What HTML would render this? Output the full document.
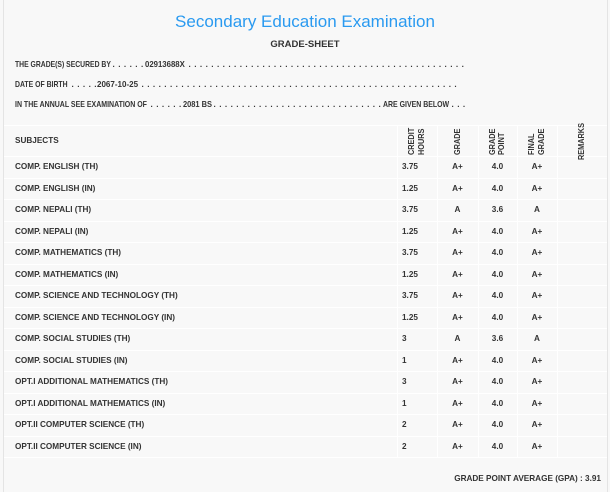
<!DOCTYPE html>
<html>
<head>
<meta charset="utf-8">
<style>
  html,body{margin:0;padding:0;}
  body{width:610px;height:492px;background:#f8f8f8;position:relative;overflow:hidden;
       font-family:"Liberation Sans",Arial,sans-serif;color:#333;}
  .abs{position:absolute;white-space:nowrap;}
  .b{font-weight:bold;font-size:8.2px;}
  .vl{position:absolute;width:1px;background:#ffffff;}
  .hl{position:absolute;height:1px;background:#ffffff;}
  .rot{position:absolute;white-space:nowrap;font-weight:bold;font-size:8.5px;line-height:9.5px;
       transform:rotate(-90deg) scaleX(0.86);transform-origin:0 0;}
  .row{position:absolute;left:0;width:610px;height:21.5px;line-height:21.5px;font-weight:bold;font-size:8.2px;}
  .row span{position:absolute;top:0;}
  .c1{left:15px;}
  .c2{left:402px;}
  .c3{left:437px;width:41px;text-align:center;}
  .c4{left:478px;width:39px;text-align:center;}
  .c5{left:517px;width:40px;text-align:center;}
  .info{position:absolute;white-space:nowrap;font-weight:bold;font-size:8.2px;line-height:10px;transform-origin:0 0;}
  .dots{letter-spacing:0.57px;}
</style>
</head>
<body>
<div class="abs" style="left:3px;top:0;width:1px;height:492px;background:#e4e4e4;"></div>
<div class="abs" style="left:607px;top:0;width:1px;height:492px;background:#e4e4e4;"></div>

<div class="abs" style="left:0;width:610px;text-align:center;top:12.5px;font-size:17px;line-height:17px;color:#2a9af0;">Secondary Education Examination</div>
<div class="abs" style="left:0;width:610px;text-align:center;top:39.5px;font-size:9.5px;line-height:10px;font-weight:bold;">GRADE-SHEET</div>

<!-- line 1 -->
<div class="info" style="left:15px;top:60.4px;transform:scaleX(0.833);">THE GRADE(S) SECURED BY</div>
<div class="info dots" style="left:112.5px;top:60.4px;">. . . . . .</div>
<div class="info" style="left:145px;top:60.4px;transform:scaleX(0.95);">02913688X</div>
<div class="info dots" style="left:188.5px;top:60.4px;">. . . . . . . . . . . . . . . . . . . . . . . . . . . . . . . . . . . . . . . . . . . . . . . . .</div>

<!-- line 2 -->
<div class="info" style="left:15px;top:79.7px;transform:scaleX(0.84);">DATE OF BIRTH</div>
<div class="info dots" style="left:71.5px;top:79.7px;">. . . . .</div>
<div class="info" style="left:97px;top:79.7px;transform:scaleX(0.98);">2067-10-25</div>
<div class="info dots" style="left:141.5px;top:79.7px;">. . . . . . . . . . . . . . . . . . . . . . . . . . . . . . . . . . . . . . . . . . . . . . . . . . . . . . . .</div>

<!-- line 3 -->
<div class="info" style="left:15px;top:99.9px;transform:scaleX(0.854);">IN THE ANNUAL SEE EXAMINATION OF</div>
<div class="info dots" style="left:150.5px;top:99.9px;">. . . . . .</div>
<div class="info" style="left:183px;top:99.9px;transform:scaleX(0.91);">2081 BS</div>
<div class="info dots" style="left:213.5px;top:99.9px;">. . . . . . . . . . . . . . . . . . . . . . . . . . . . . .</div>
<div class="info" style="left:383px;top:99.9px;transform:scaleX(0.85);">ARE GIVEN BELOW</div>
<div class="info dots" style="left:451.5px;top:99.9px;">. . .</div>

<!-- table lines -->
<div class="hl" style="left:4px;width:603px;top:125px;"></div>
<div class="hl" style="left:4px;width:603px;top:156px;"></div>
<div class="hl" style="left:4px;width:603px;top:177.5px;"></div>
<div class="hl" style="left:4px;width:603px;top:199px;"></div>
<div class="hl" style="left:4px;width:603px;top:220.5px;"></div>
<div class="hl" style="left:4px;width:603px;top:242px;"></div>
<div class="hl" style="left:4px;width:603px;top:263.5px;"></div>
<div class="hl" style="left:4px;width:603px;top:285px;"></div>
<div class="hl" style="left:4px;width:603px;top:306.5px;"></div>
<div class="hl" style="left:4px;width:603px;top:328px;"></div>
<div class="hl" style="left:4px;width:603px;top:349.5px;"></div>
<div class="hl" style="left:4px;width:603px;top:371px;"></div>
<div class="hl" style="left:4px;width:603px;top:392.5px;"></div>
<div class="hl" style="left:4px;width:603px;top:414px;"></div>
<div class="hl" style="left:4px;width:603px;top:435.5px;"></div>
<div class="hl" style="left:4px;width:603px;top:457px;"></div>

<div class="vl" style="left:397px;top:125px;height:332px;"></div>
<div class="vl" style="left:437px;top:125px;height:332px;"></div>
<div class="vl" style="left:478px;top:125px;height:332px;"></div>
<div class="vl" style="left:517px;top:125px;height:332px;"></div>
<div class="vl" style="left:557px;top:125px;height:332px;"></div>

<!-- header -->
<div class="abs b" style="left:15px;top:125px;line-height:31px;">SUBJECTS</div>
<div class="rot" style="left:407.3px;top:155px;">CREDIT</div>
<div class="rot" style="left:416.9px;top:155px;">HOURS</div>
<div class="rot" style="left:453px;top:155px;">GRADE</div>
<div class="rot" style="left:488.3px;top:155px;">GRADE</div>
<div class="rot" style="left:497px;top:155px;">POINT</div>
<div class="rot" style="left:527px;top:155px;">FINAL</div>
<div class="rot" style="left:537px;top:155px;">GRADE</div>
<div class="rot" style="left:577px;top:160px;">REMARKS</div>

<!-- rows -->
<div class="row" style="top:156px;"><span class="c1">COMP. ENGLISH (TH)</span><span class="c2">3.75</span><span class="c3">A+</span><span class="c4">4.0</span><span class="c5">A+</span></div>
<div class="row" style="top:177.5px;"><span class="c1">COMP. ENGLISH (IN)</span><span class="c2">1.25</span><span class="c3">A+</span><span class="c4">4.0</span><span class="c5">A+</span></div>
<div class="row" style="top:199px;"><span class="c1">COMP. NEPALI (TH)</span><span class="c2">3.75</span><span class="c3">A</span><span class="c4">3.6</span><span class="c5">A</span></div>
<div class="row" style="top:220.5px;"><span class="c1">COMP. NEPALI (IN)</span><span class="c2">1.25</span><span class="c3">A+</span><span class="c4">4.0</span><span class="c5">A+</span></div>
<div class="row" style="top:242px;"><span class="c1">COMP. MATHEMATICS (TH)</span><span class="c2">3.75</span><span class="c3">A+</span><span class="c4">4.0</span><span class="c5">A+</span></div>
<div class="row" style="top:263.5px;"><span class="c1">COMP. MATHEMATICS (IN)</span><span class="c2">1.25</span><span class="c3">A+</span><span class="c4">4.0</span><span class="c5">A+</span></div>
<div class="row" style="top:285px;"><span class="c1">COMP. SCIENCE AND TECHNOLOGY (TH)</span><span class="c2">3.75</span><span class="c3">A+</span><span class="c4">4.0</span><span class="c5">A+</span></div>
<div class="row" style="top:306.5px;"><span class="c1">COMP. SCIENCE AND TECHNOLOGY (IN)</span><span class="c2">1.25</span><span class="c3">A+</span><span class="c4">4.0</span><span class="c5">A+</span></div>
<div class="row" style="top:328px;"><span class="c1">COMP. SOCIAL STUDIES (TH)</span><span class="c2">3</span><span class="c3">A</span><span class="c4">3.6</span><span class="c5">A</span></div>
<div class="row" style="top:349.5px;"><span class="c1">COMP. SOCIAL STUDIES (IN)</span><span class="c2">1</span><span class="c3">A+</span><span class="c4">4.0</span><span class="c5">A+</span></div>
<div class="row" style="top:371px;"><span class="c1">OPT.I ADDITIONAL MATHEMATICS (TH)</span><span class="c2">3</span><span class="c3">A+</span><span class="c4">4.0</span><span class="c5">A+</span></div>
<div class="row" style="top:392.5px;"><span class="c1">OPT.I ADDITIONAL MATHEMATICS (IN)</span><span class="c2">1</span><span class="c3">A+</span><span class="c4">4.0</span><span class="c5">A+</span></div>
<div class="row" style="top:414px;"><span class="c1">OPT.II COMPUTER SCIENCE (TH)</span><span class="c2">2</span><span class="c3">A+</span><span class="c4">4.0</span><span class="c5">A+</span></div>
<div class="row" style="top:435.5px;"><span class="c1">OPT.II COMPUTER SCIENCE (IN)</span><span class="c2">2</span><span class="c3">A+</span><span class="c4">4.0</span><span class="c5">A+</span></div>

<div class="abs b" style="right:9px;top:474px;line-height:10px;">GRADE POINT AVERAGE (GPA) : 3.91</div>
</body>
</html>
